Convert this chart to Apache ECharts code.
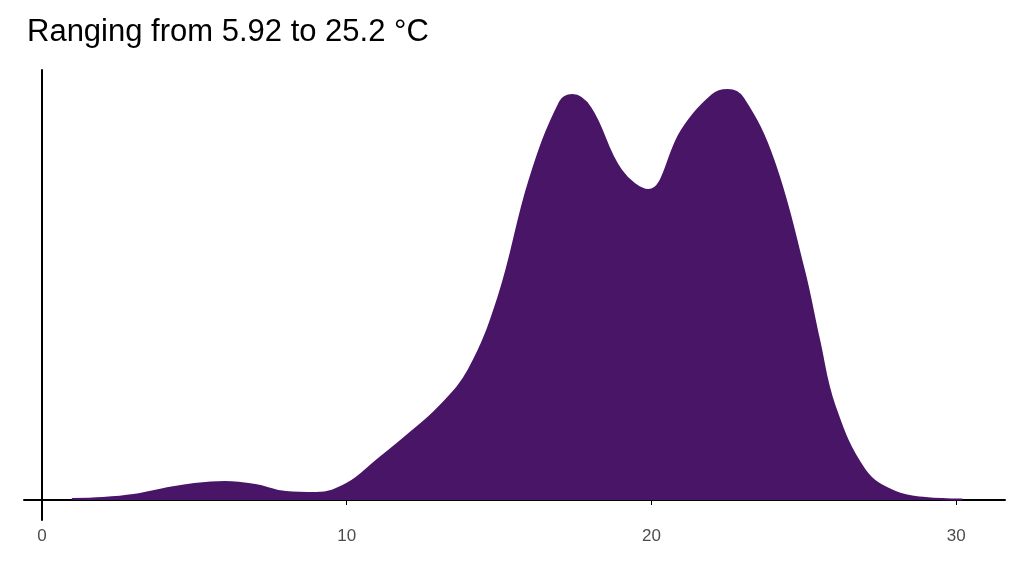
<!DOCTYPE html><html><head><meta charset="utf-8"><script src="https://cdn.jsdelivr.net/npm/echarts@6/dist/echarts.min.js"></script></head><body style="margin:0"><div id="c" style="width:1024px;height:576px"></div><script>
const xs=[0.98,2,3,4,5,6,7,8,9,10,11,12,13,14,15,16,17,17.4,18,19,19.9,21,22,22.5,23,24,25,25.5,26,27,28,29,30.2];
const ds=[1,2,5,11,16,18,15,8,7,16,40,65,92,130,205,320,398,405,392,330,310,370,405,410,402,340,230,160,95,30,8,2,0.5];
const title='Ranging from 5.92 to 25.2 °C';
const ch=echarts.init(document.getElementById('c'));
ch.setOption({animation:false,
title:{text:title,left:22,top:12,textStyle:{fontFamily:'Liberation Sans',fontSize:31,fontWeight:'normal',color:'#000'}},
grid:{left:24,right:19,top:70,bottom:56},
xAxis:{type:'value',min:-0.59,max:31.6,interval:10,axisLine:{lineStyle:{color:'#000',width:2}},axisTick:{lineStyle:{color:'#333'},length:6},
axisLabel:{color:'#4d4d4d',fontSize:17,fontFamily:'Liberation Sans',customValues:[0,10,20,30]},splitLine:{show:false},
axisTick:{customValues:[0,10,20,30]}},
yAxis:{type:'value',min:-20,max:430,axisLine:{show:true,lineStyle:{color:'#000',width:2}},axisLabel:{show:false},axisTick:{show:false},splitLine:{show:false}},
series:[{type:'line',smooth:0.4,symbol:'none',data:xs.map((x,i)=>[x,ds[i]]),lineStyle:{color:'#481567',width:2},areaStyle:{color:'#481567',opacity:1,origin:0}}]});
</script></body></html>
